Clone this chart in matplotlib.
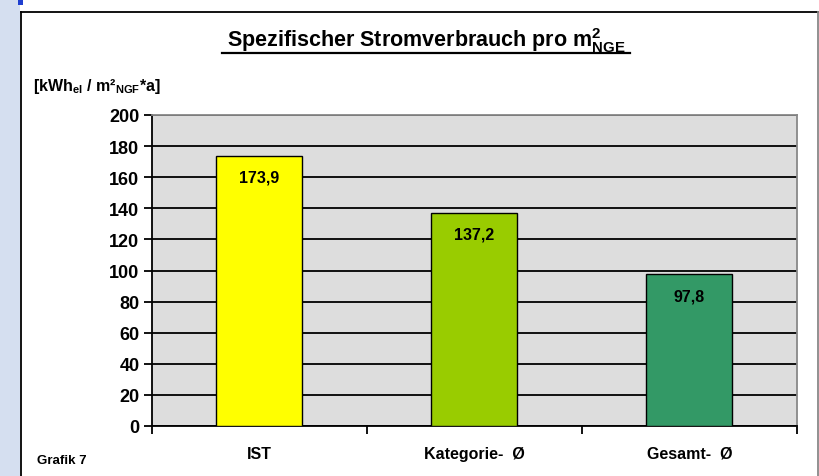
import matplotlib
matplotlib.use("Agg")
import matplotlib.pyplot as plt
from matplotlib.patches import Rectangle
from matplotlib.lines import Line2D

categories = ["IST", "Kategorie-  Ø", "Gesamt-  Ø"]
values = [173.9, 137.2, 97.8]
value_labels = ["173,9", "137,2", "97,8"]
colors = ["#ffff00", "#99cc00", "#339966"]
yticks = [0, 20, 40, 60, 80, 100, 120, 140, 160, 180, 200]

plt.rcParams['font.family'] = ['Liberation Sans', 'DejaVu Sans']
plt.rcParams['mathtext.fontset'] = 'custom'
plt.rcParams['mathtext.bf'] = 'Liberation Sans:bold'
plt.rcParams['mathtext.rm'] = 'Liberation Sans:bold'

W, H = 820, 477
fig = plt.figure(figsize=(8.2, 4.77), dpi=100)
fig.patch.set_facecolor("white")

def fx(x): return x / W
def fy(y): return 1 - y / H

# left light-blue strip and frame
fig.add_artist(Rectangle((0, 0), fx(20), 1, transform=fig.transFigure,
                         facecolor="#d5dff0", edgecolor="none", zorder=0))
fig.add_artist(Rectangle((fx(18), fy(6)), fx(5), fy(0) - fy(6), transform=fig.transFigure,
                         facecolor="#1f3fd0", edgecolor="none", zorder=0))
fig.add_artist(Line2D([fx(21), fx(21)], [0, fy(13)], transform=fig.transFigure,
                      color="black", lw=1.3))
fig.add_artist(Line2D([fx(21), fx(818)], [fy(13), fy(13)], transform=fig.transFigure,
                      color="black", lw=1.3))
fig.add_artist(Line2D([fx(818), fx(818)], [0, fy(13)], transform=fig.transFigure,
                      color="#888888", lw=1.3))

ax = fig.add_axes([fx(152), fy(427), fx(797) - fx(152), fy(116) - fy(427)])
ax.set_facecolor("#dddddd")
x = list(range(len(categories)))
ax.bar(x, values, width=0.4, color=colors, edgecolor="black", linewidth=1.0, zorder=3)
ax.set_xlim(-0.5, 2.5)
ax.set_ylim(0, 200)
ax.set_yticks(yticks)
ax.set_yticklabels([str(t) for t in yticks], fontsize=13, fontweight="bold")
ax.yaxis.grid(True, color="black", linewidth=1.3, zorder=0)
ax.set_axisbelow(True)
ax.tick_params(axis="y", direction="out", length=6, width=1.3, pad=3)
ax.set_xticks([-0.5, 0.5, 1.5, 2.5])
ax.set_xticklabels([])
ax.tick_params(axis="x", direction="out", length=6, width=1.3)
for i, c in enumerate(categories):
    ax.text(i, -20.5, c, ha="center", va="baseline", fontsize=11.5, fontweight="bold",
            transform=ax.transData, clip_on=False)
for s in ["left", "bottom"]:
    ax.spines[s].set_color("black")
    ax.spines[s].set_linewidth(1.3)
for s in ["top", "right"]:
    ax.spines[s].set_color("#888888")
    ax.spines[s].set_linewidth(1.3)

for i, (v, lab) in enumerate(zip(values, value_labels)):
    ax.text(i, v - 14, lab, ha="center", va="center", fontsize=11.5, fontweight="bold", zorder=4)

# title with underline
fig.text(fx(426), fy(47), r"Spezifischer Stromverbrauch pro m$^{2}_{\rm NGE}$",
         ha="center", va="baseline", fontsize=15.5, fontweight="bold")
fig.add_artist(Line2D([fx(222), fx(630)], [fy(54), fy(54)], transform=fig.transFigure,
                      color="black", lw=1.6))

fig.text(fx(33), fy(87), r"[kWh$_{\rm el}$ / m²$_{\rm NGF}$*a]", ha="left", va="center",
         fontsize=11.5, fontweight="bold")
fig.text(fx(37), fy(461), "Grafik 7", ha="left", va="center", fontsize=9.5, fontweight="bold")

fig.savefig("out.png", dpi=100)
